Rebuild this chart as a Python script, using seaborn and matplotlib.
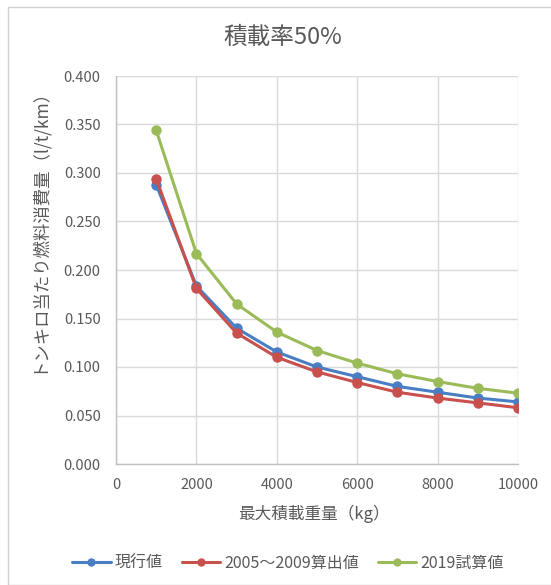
import matplotlib
matplotlib.use("Agg")
import matplotlib.pyplot as plt
from matplotlib.patches import Rectangle
from matplotlib.ticker import FormatStrFormatter, MultipleLocator
import seaborn as sns
import pandas as pd

# Maximum payload (kg)
payload = [1000, 2000, 3000, 4000, 5000, 6000, 7000, 8000, 9000, 10000]

# Fuel consumption per ton-km (l/t/km) at 50% load factor
current = [0.288, 0.1835, 0.140, 0.1155, 0.100, 0.090, 0.080, 0.074, 0.068, 0.064]
calc_2005_2009 = [0.294, 0.181, 0.135, 0.110, 0.095, 0.084, 0.074, 0.068, 0.063, 0.058]
trial_2019 = [0.344, 0.217, 0.165, 0.136, 0.117, 0.104, 0.093, 0.085, 0.078, 0.073]

series_names = ["現行値", "2005～2009算出値", "2019試算値"]
series_colors = ["#4A7EC4", "#C8504D", "#9BBB59"]

title = "積載率50%"
x_label = "最大積載重量（kg）"
y_label = "トンキロ当たり燃料消費量（l/t/km）"

sns.set_theme(style="white")
plt.rcParams["font.family"] = ["Noto Sans CJK JP", "DejaVu Sans"]

df = pd.DataFrame({
    "payload": payload * 3,
    "value": current + calc_2005_2009 + trial_2019,
    "series": [series_names[0]] * len(payload)
    + [series_names[1]] * len(payload)
    + [series_names[2]] * len(payload),
})

text_gray = "#595959"
grid_gray = "#D9D9D9"

W, H = 551, 585
fig = plt.figure(figsize=(W / 100, H / 100), dpi=100)
ax = fig.add_axes([116 / W, 1 - 464 / H, 402 / W, 388 / H])

# Outer chart frame
fig.patches.append(Rectangle((8 / W, 0), 1, 1 - 7 / H, transform=fig.transFigure,
                             fill=False, edgecolor="#D0D0D0", linewidth=1.0))

sns.lineplot(data=df, x="payload", y="value", hue="series", hue_order=series_names,
             palette=series_colors, marker="o", markersize=7.5, markeredgewidth=0,
             linewidth=2.2, ax=ax, legend=True)

ax.set_xlim(0, 10000)
ax.set_ylim(0, 0.4)
ax.xaxis.set_major_locator(MultipleLocator(2000))
ax.yaxis.set_major_locator(MultipleLocator(0.05))
ax.yaxis.set_major_formatter(FormatStrFormatter("%.3f"))
ax.grid(True, color=grid_gray, linewidth=1.0)
ax.set_axisbelow(True)
for side in ["top", "right"]:
    ax.spines[side].set_visible(False)
for side in ["left", "bottom"]:
    ax.spines[side].set_color("#BFBFBF")
    ax.spines[side].set_linewidth(1.0)
ax.tick_params(axis="both", length=0, labelsize=10.5, labelcolor=text_gray)
ax.tick_params(axis="y", pad=11)
ax.tick_params(axis="x", pad=10)

ax.set_xlabel("")
ax.set_ylabel("")
fig.text(314 / W, 1 - 514 / H, x_label, ha="center", va="center",
         fontsize=12, color=text_gray)
fig.text(37 / W, 1 - 226 / H, y_label, ha="center", va="center", rotation=90,
         fontsize=12.5, color=text_gray)
fig.text(283 / W, 1 - 37 / H, title, ha="center", va="center",
         fontsize=17, color=text_gray)

handles, labels = ax.get_legend_handles_labels()
ax.legend(handles, labels, loc="center", bbox_to_anchor=(288 / W, 1 - 563 / H),
          bbox_transform=fig.transFigure, ncol=3, frameon=False, fontsize=11.5,
          labelcolor=text_gray, handlelength=2.4, handletextpad=0.25,
          columnspacing=1.2, markerscale=0.8)

fig.savefig("out.png", dpi=100)
